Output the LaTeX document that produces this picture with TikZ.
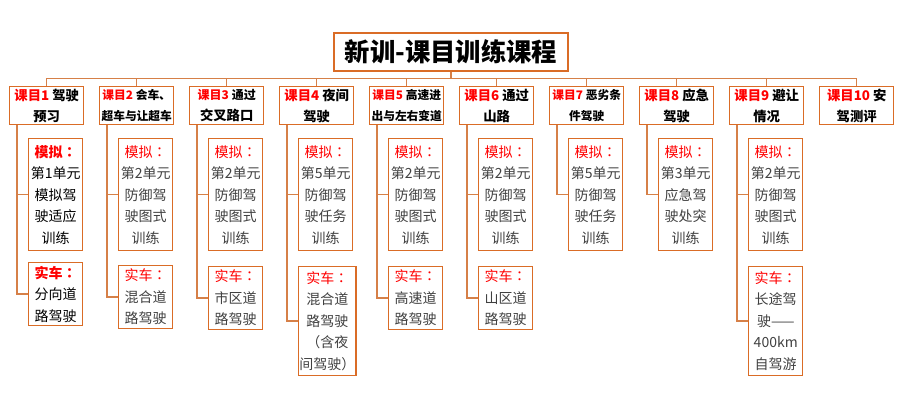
\documentclass[tikz,border=0pt]{standalone}
\usepackage{fontspec}
\setmainfont{Noto Sans CJK SC}
\newfontfamily\tcfont{Noto Sans CJK TC}

\definecolor{boxline}{RGB}{218,108,38}
\definecolor{linkline}{RGB}{214,128,72}
\definecolor{kred}{RGB}{255,0,0}
\definecolor{ktext}{RGB}{64,64,64}

\newcommand{\kemu}[1]{\textcolor{kred}{#1}}
\newcommand{\moni}{\kemu{模拟{\tcfont ：}}}
\newcommand{\shiche}{\kemu{实车{\tcfont ：}}}

\tikzset{every picture/.style={line width=0.75pt}}
\tikzset{
  titlebox/.style={draw=boxline, line width=1.1pt, fill=white, minimum width=175.5pt, minimum height=28.3pt, inner sep=0pt, font=\fontsize{19}{22}\selectfont\bfseries},
  kemubox/.style={draw=boxline, line width=1.1pt, minimum width=55.5pt, minimum height=28.5pt, inner sep=0.5pt, align=center, anchor=north west, font=\fontsize{10}{16}\selectfont\bfseries},
  smallkemu/.style={font=\fontsize{8.8}{16}\selectfont\bfseries},
  monibox/.style={draw=boxline, line width=1.1pt, minimum width=40.5pt, minimum height=84pt, inner xsep=0.5pt, inner ysep=1pt, align=center, anchor=north west, text=ktext, font=\fontsize{10.5}{16.1}\selectfont},
  shichebox/.style={monibox, minimum height=47pt},
  link/.style={draw=linkline, line width=1.1pt},
}

\begin{document}
\begin{tikzpicture}[x=0.75pt,y=0.75pt,yscale=-1,xscale=1]
\useasboundingbox (0,0) rectangle (900,408);

% Title
\node[titlebox] (title) at (451,52) {新训-课目训练课程};

% Top row
\node[kemubox] (t1) at (9,86) {\kemu{课目1} 驾驶\\预习};
\node[kemubox, smallkemu] (t2) at (99,86) {\kemu{课目2} 会车、\\超车与让超车};
\node[kemubox] (t3) at (189,86) {{\fontsize{9}{16}\selectfont\kemu{课目3} 通过}\\交叉路口};
\node[kemubox] (t4) at (279,86) {\kemu{课目4} 夜间\\驾驶};
\node[kemubox, smallkemu] (t5) at (369,86) {\kemu{课目5} 高速进\\出与左右变道};
\node[kemubox] (t6) at (459,86) {\kemu{课目6} 通过\\山路};
\node[kemubox, smallkemu] (t7) at (549,86) {\kemu{课目7} 恶劣条\\件驾驶};
\node[kemubox] (t8) at (639,86) {\kemu{课目8} 应急\\驾驶};
\node[kemubox] (t9) at (729,86) {\kemu{课目9} 避让\\情况};
\node[kemubox] (t10) at (819,86) {\kemu{课目10} 安\\驾测评};

% Simulator boxes
\node[monibox, text=black] (s1) at (28,138) {\textbf{\moni}\\第1单元\\模拟驾\\驶适应\\训练};
\node[monibox] (s2) at (118,138) {\moni\\第2单元\\防御驾\\驶图式\\训练};
\node[monibox] (s3) at (208,138) {\moni\\第2单元\\防御驾\\驶图式\\训练};
\node[monibox] (s4) at (298,138) {\moni\\第5单元\\防御驾\\驶任务\\训练};
\node[monibox] (s5) at (388,138) {\moni\\第2单元\\防御驾\\驶图式\\训练};
\node[monibox] (s6) at (478,138) {\moni\\第2单元\\防御驾\\驶图式\\训练};
\node[monibox] (s7) at (568,138) {\moni\\第5单元\\防御驾\\驶任务\\训练};
\node[monibox] (s8) at (658,138) {\moni\\第3单元\\应急驾\\驶处突\\训练};
\node[monibox] (s9) at (748,138) {\moni\\第2单元\\防御驾\\驶图式\\训练};

% Road boxes
\node[shichebox, text=black] (r1) at (28,262) {\textbf{\shiche}\\分向道\\路驾驶};
\node[shichebox] (r2) at (118,265) {\shiche\\混合道\\路驾驶};
\node[shichebox] (r3) at (208,266) {\shiche\\市区道\\路驾驶};
\node[shichebox, minimum height=81.5pt] (r4) at (298,266) {\shiche\\混合道\\路驾驶\\（含夜\\间驾驶）};
\node[shichebox] (r5) at (388,266) {\shiche\\高速道\\路驾驶};
\node[shichebox] (r6) at (478,266) {\shiche\\山区道\\路驾驶};
\node[shichebox, minimum height=81.5pt] (r9) at (748,266) {\shiche\\长途驾\\驶——\\400km\\自驾游};

% Bus
\coordinate (bus) at (451,78.3);
\draw[link] (title.south) -- (title.south |- bus);
\draw[link] (t1.north |- bus) -- (t10.north |- bus);
\draw[link] (t1.north) -- (t1.north |- bus);
\draw[link] (t2.north) -- (t2.north |- bus);
\draw[link] (t3.north) -- (t3.north |- bus);
\draw[link] (t4.north) -- (t4.north |- bus);
\draw[link] (t5.north) -- (t5.north |- bus);
\draw[link] (t6.north) -- (t6.north |- bus);
\draw[link] (t7.north) -- (t7.north |- bus);
\draw[link] (t8.north) -- (t8.north |- bus);
\draw[link] (t9.north) -- (t9.north |- bus);
\draw[link] (t10.north) -- (t10.north |- bus);

% Branches
\draw[link] ([xshift=6pt]t1.south west) |- (s1.west);
\draw[link] ([xshift=6pt]t1.south west) |- (r1.west);
\draw[link] ([xshift=6pt]t2.south west) |- (s2.west);
\draw[link] ([xshift=6pt]t2.south west) |- (r2.west);
\draw[link] ([xshift=6pt]t3.south west) |- (s3.west);
\draw[link] ([xshift=6pt]t3.south west) |- (r3.west);
\draw[link] ([xshift=6pt]t4.south west) |- (s4.west);
\draw[link] ([xshift=6pt]t4.south west) |- (r4.west);
\draw[link] ([xshift=6pt]t5.south west) |- (s5.west);
\draw[link] ([xshift=6pt]t5.south west) |- (r5.west);
\draw[link] ([xshift=6pt]t6.south west) |- (s6.west);
\draw[link] ([xshift=6pt]t6.south west) |- (r6.west);
\draw[link] ([xshift=6pt]t7.south west) |- (s7.west);
\draw[link] ([xshift=6pt]t8.south west) |- (s8.west);
\draw[link] ([xshift=6pt]t9.south west) |- (s9.west);
\draw[link] ([xshift=6pt]t9.south west) |- (r9.west);

\end{tikzpicture}
\end{document}
